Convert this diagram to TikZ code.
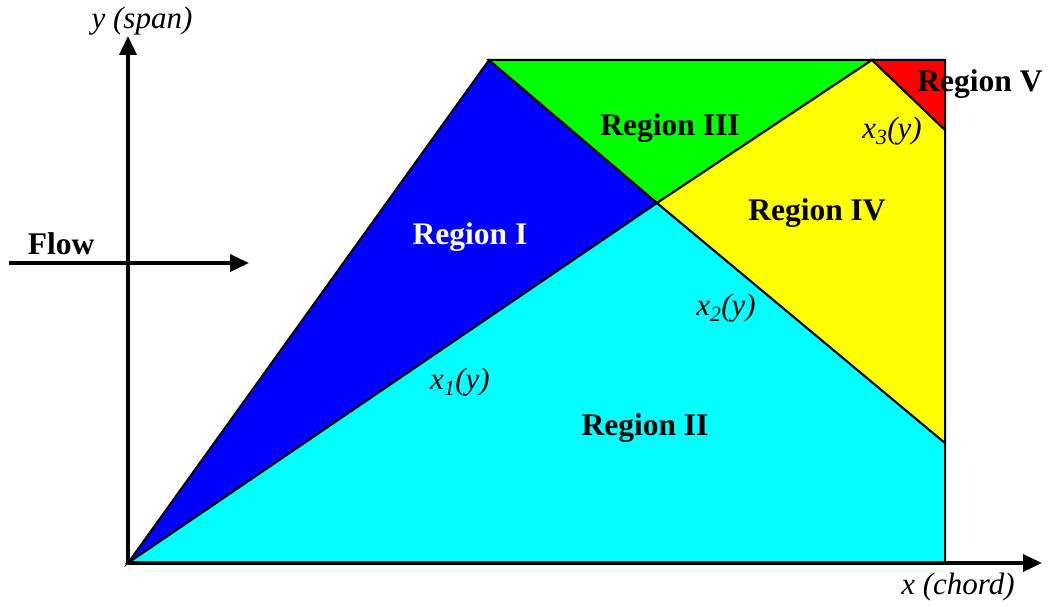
\documentclass[tikz,border=0pt]{standalone}
\usepackage{fontspec}
\setmainfont{Liberation Serif}
\usetikzlibrary{arrows.meta}
\definecolor{rblue}{RGB}{0,0,255}
\definecolor{rcyan}{RGB}{0,255,255}
\definecolor{rgreen}{RGB}{0,255,0}
\definecolor{ryellow}{RGB}{255,255,0}
\definecolor{rred}{RGB}{255,0,0}
\tikzset{
  region/.style={draw=black, line width=2pt, line join=miter},
  axis/.style={line width=3.5pt, -{Triangle[length=19pt,width=17pt]}},
  rlabel/.style={font=\fontsize{31.5}{33}\selectfont\bfseries, inner sep=0pt},
  flabel/.style={font=\fontsize{31}{33}\selectfont\itshape, inner sep=0pt}
}
\begin{document}
\begin{tikzpicture}[x=1pt,y=-1pt]
\useasboundingbox (0,0) rectangle (1049,607);
\coordinate (O) at (128,563);
\coordinate (A) at (489,60);
\coordinate (C) at (657,203);
\coordinate (D) at (945,443);
\coordinate (E) at (945,563);
\coordinate (F) at (872,60);
\coordinate (G) at (945,130);
\coordinate (H) at (945,60);
\coordinate (ytip) at (128,36);
\coordinate (xtip) at (1042,563);
\coordinate (fs) at (9,263);
\coordinate (fe) at (249,263);
\filldraw[region, fill=rblue] (O) -- (A) -- (C) -- cycle;
\filldraw[region, fill=rcyan] (O) -- (C) -- (D) -- (E) -- cycle;
\filldraw[region, fill=rgreen] (A) -- (F) -- (C) -- cycle;
\filldraw[region, fill=ryellow] (C) -- (F) -- (G) -- (D) -- cycle;
\filldraw[region, fill=rred] (F) -- (H) -- (G) -- cycle;
\draw[axis] (O) -- (ytip);
\draw[axis] (O) -- (xtip);
\draw[axis] (fs) -- (fe);
\node[flabel] (ylab) at (142,21) {y (span)};
\node[flabel] (xlab) at (958,587) {x (chord)};
\node[rlabel] (flow) at (61,244) {Flow};
\node[rlabel, text=white] (r1) at (470,237) {Region I};
\node[rlabel] (r2) at (645,428) {Region II};
\node[rlabel] (r3) at (670,128) {Region III};
\node[rlabel] (r4) at (817,213) {Region IV};
\node[rlabel] (r5) at (980,84) {Region V};
\node[flabel] (x1) at (460,382) {x\textsubscript{1}(y)};
\node[flabel] (x2) at (726,308) {x\textsubscript{2}(y)};
\node[flabel] (x3) at (892,131) {x\textsubscript{3}(y)};
\end{tikzpicture}
\end{document}
